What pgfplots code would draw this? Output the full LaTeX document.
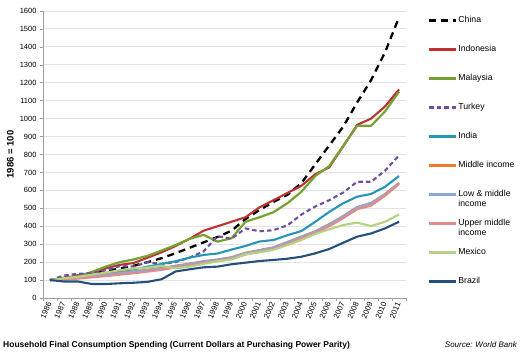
\documentclass[border=0pt]{standalone}
\usepackage{fontspec}
\setmainfont{Liberation Sans}
\usepackage{pgfplots}
\usepackage{pgfplotstable}
\pgfplotsset{compat=1.18}
\definecolor{cIndo}{RGB}{188,50,46}
\definecolor{cMal}{RGB}{118,162,52}
\definecolor{cTur}{RGB}{112,78,160}
\definecolor{cInd}{RGB}{38,150,182}
\definecolor{cMid}{RGB}{240,122,40}
\definecolor{cLow}{RGB}{140,168,214}
\definecolor{cUpp}{RGB}{228,138,138}
\definecolor{cMex}{RGB}{180,210,128}
\definecolor{cBra}{RGB}{38,80,122}
\pgfplotstableread{
x China Indo Mal Tur Ind Mid Low Upp Mex Bra
0 100 100 100 100 100 100 100 100 100 100
1 112 112 110 125 105 106 105 104 110 92
2 125 125 122 135 113 114 112 108 118 92
3 135 140 145 138 125 122 120 115 130 78
4 150 165 175 155 138 132 130 122 142 78
5 165 185 200 178 150 140 138 130 155 82
6 180 195 215 175 160 148 146 138 165 85
7 200 225 235 200 175 158 155 147 170 90
8 222 255 265 190 190 168 165 157 180 105
9 250 290 295 200 205 180 178 170 165 148
10 280 330 330 225 225 192 190 182 175 160
11 310 375 352 260 240 205 203 195 190 171
12 340 400 314 345 248 215 213 205 205 175
13 375 425 333 330 270 227 225 218 215 188
14 440 450 425 388 290 252 250 242 244 197
15 490 505 450 372 315 267 265 258 255 206
16 535 545 478 378 323 282 280 272 268 212
17 575 585 528 405 350 312 310 300 295 219
18 640 625 592 465 373 342 340 332 323 230
19 745 690 680 510 425 372 370 362 357 249
20 850 728 735 545 480 412 410 400 383 273
21 955 845 848 588 528 457 455 445 407 308
22 1090 965 960 648 565 507 505 495 420 342
23 1215 1000 960 648 580 530 528 515 401 360
24 1370 1068 1040 710 620 580 578 570 425 388
25 1565 1163 1150 795 680 642 640 635 466 425
}\data
\begin{document}
\begin{tikzpicture}
\useasboundingbox (-43pt,-55pt) rectangle (478pt,298pt);
\begin{axis}[
  scale only axis, width=363pt, height=287pt,
  xmin=-0.5, xmax=25.5, ymin=0, ymax=1600,
  axis x line*=bottom, axis y line*=left,
  axis line style={-, draw=gray!75, line width=0.6pt},
  xtick={0,...,25},
  xticklabels={1986,1987,1988,1989,1990,1991,1992,1993,1994,1995,1996,1997,1998,1999,2000,2001,2002,2003,2004,2005,2006,2007,2008,2009,2010,2011},
  major x tick style={draw=none},
  minor xtick={-0.5,0.5,...,25.5},
  minor tick length=3pt, major tick length=3pt,
  tick style={draw=gray!75, line width=0.6pt},
  tick align=outside,
  ytick={0,100,...,1600},
  ymajorgrids, grid style={gray!22, line width=0.9pt},
  /pgf/number format/assume math mode=true,
  /pgf/number format/1000 sep={},
  yticklabel style={font=\fontsize{7.5}{9}\selectfont},
  xticklabel style={font=\fontsize{7.8}{9}\selectfont, rotate=67, anchor=east, inner sep=1.5pt},
  ylabel={\textbf{1986 = 100}},
  ylabel style={font=\fontsize{9.5}{11}\selectfont, at={(axis description cs:-0.09,0.5)}, anchor=center},
  legend cell align=left,
  legend style={at={(1.052,0.993)}, anchor=north west, draw=none, fill=none,
    font=\fontsize{8.7}{10}\selectfont, row sep=5.5pt, column sep=0pt,
    nodes={inner sep=1pt, text height=6.5pt, text depth=15pt}},
  legend image code/.code={\draw[#1] (0pt,6.5pt) -- (27pt,6.5pt);},
  every axis plot/.append style={line join=round, no markers},
]
\addplot[black, line width=2.3pt, dash pattern=on 7pt off 5pt] table[x=x,y=China]{\data};
\addlegendentry{China}
\addplot[cIndo, line width=2.1pt] table[x=x,y=Indo]{\data};
\addlegendentry{Indonesia}
\addplot[cMal, line width=2.2pt] table[x=x,y=Mal]{\data};
\addlegendentry{Malaysia}
\addplot[cTur, line width=2.1pt, dash pattern=on 4.5pt off 3pt] table[x=x,y=Tur]{\data};
\addlegendentry{Turkey}
\addplot[cInd, line width=2.1pt] table[x=x,y=Ind]{\data};
\addlegendentry{India}
\addplot[cMid, line width=2.1pt] table[x=x,y=Mid]{\data};
\addlegendentry{Middle income}
\addplot[cLow, line width=2.2pt] table[x=x,y=Low]{\data};
\addlegendentry{\parbox[t]{70pt}{Low \& middle\\income}}
\addplot[cUpp, line width=2.1pt] table[x=x,y=Upp]{\data};
\addlegendentry{\parbox[t]{70pt}{Upper middle\\income}}
\addplot[cMex, line width=2.1pt] table[x=x,y=Mex]{\data};
\addlegendentry{Mexico}
\addplot[cBra, line width=2.1pt] table[x=x,y=Bra]{\data};
\addlegendentry{Brazil}
\end{axis}
\node[anchor=west, font=\fontsize{8.5}{10}\selectfont\bfseries, inner sep=0pt] at (-40pt,-47pt) {Household Final Consumption Spending (Current Dollars at Purchasing Power Parity)};
\node[anchor=east, font=\fontsize{8}{10}\selectfont\itshape, inner sep=0pt] at (474pt,-47pt) {Source: World Bank};
\end{tikzpicture}
\end{document}
